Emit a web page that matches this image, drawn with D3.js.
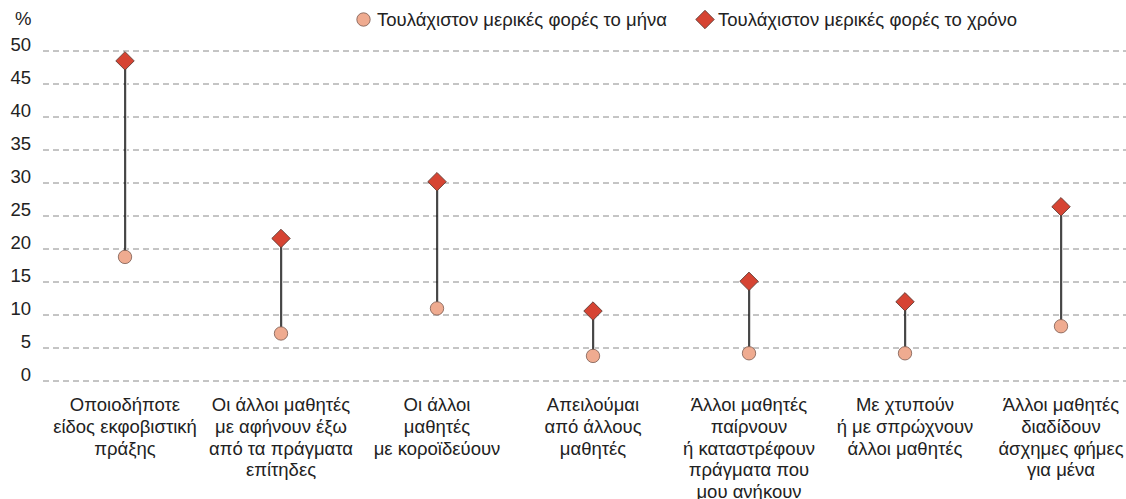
<!DOCTYPE html>
<html><head><meta charset="utf-8">
<script src="https://cdn.jsdelivr.net/npm/d3@7"></script>
<style>body{margin:0;background:#fff}svg{display:block;font-family:"Liberation Sans",Arial,sans-serif}</style>
</head><body><svg id="c" width="1126" height="499"></svg>
<script>
const categories = [
  ["Οποιοδήποτε","είδος εκφοβιστική","πράξης"],
  ["Οι άλλοι μαθητές","με αφήνουν έξω","από τα πράγματα","επίτηδες"],
  ["Οι άλλοι","μαθητές","με κοροϊδεύουν"],
  ["Απειλούμαι","από άλλους","μαθητές"],
  ["Άλλοι μαθητές","παίρνουν","ή καταστρέφουν","πράγματα που","μου ανήκουν"],
  ["Με χτυπούν","ή με σπρώχνουν","άλλοι μαθητές"],
  ["Άλλοι μαθητές","διαδίδουν","άσχημες φήμες","για μένα"]
];
const monthly = [18.8, 7.2, 11.0, 3.8, 4.2, 4.2, 8.3];
const yearly = [48.5, 21.6, 30.2, 10.6, 15.1, 12.0, 26.4];
const yTicks = [0,5,10,15,20,25,30,35,40,45,50];
const seriesNames = ["Τουλάχιστον μερικές φορές το μήνα","Τουλάχιστον μερικές φορές το χρόνο"];

const FS = 18.5;
const svg = d3.select("#c");
const idx = d3.range(categories.length);
const x = d3.scaleBand().domain(idx).range([47,1139]);
const y = d3.scaleLinear().domain([0,50]).range([381,51]);

// grid
svg.append("g").selectAll("line").data(yTicks).join("line")
  .attr("x1",43).attr("x2",1126).attr("y1",d=>y(d)).attr("y2",d=>y(d))
  .attr("stroke","#8a8a8a").attr("stroke-width",1).attr("stroke-dasharray","6,4");
svg.append("g").selectAll("text").data(yTicks).join("text")
  .attr("x",31).attr("y",d=>y(d)-0.5).attr("text-anchor","end")
  .attr("font-size",FS).attr("fill","#222").text(d=>d);
svg.append("text").attr("x",15).attr("y",25).attr("font-size",FS).attr("fill","#222").text("%");

// connectors
const cx = i => x(i) + x.bandwidth()/2;
svg.append("g").selectAll("line").data(idx).join("line")
  .attr("x1",i=>cx(i)+1.2).attr("x2",i=>cx(i)+1.2).attr("y1",i=>y(monthly[i])).attr("y2",i=>y(yearly[i]))
  .attr("stroke","#d4d4d4").attr("stroke-width",1.5);
svg.append("g").selectAll("line").data(idx).join("line")
  .attr("x1",cx).attr("x2",cx).attr("y1",i=>y(monthly[i])).attr("y2",i=>y(yearly[i]))
  .attr("stroke","#000").attr("stroke-width",1.4);

// markers
const circFill = "#efab90", circStroke = "#7a5a50";
const diaFill = "#d64433", diaStroke = "#5a3a33";
svg.append("g").selectAll("circle").data(idx).join("circle")
  .attr("cx",cx).attr("cy",i=>y(monthly[i])).attr("r",6.7)
  .attr("fill",circFill).attr("stroke",circStroke).attr("stroke-width",0.8);
const diamond = d3.symbol().type(d3.symbolSquare).size(170);
svg.append("g").selectAll("path").data(idx).join("path")
  .attr("d",diamond)
  .attr("transform",i=>`translate(${cx(i)},${y(yearly[i])}) rotate(45)`)
  .attr("fill",diaFill).attr("stroke",diaStroke).attr("stroke-width",0.8);

// x labels
const xl = svg.append("g").selectAll("text").data(idx).join("text")
  .attr("x",cx).attr("y",411).attr("text-anchor","middle").attr("font-size",FS).attr("fill","#222");
xl.selectAll("tspan").data(i=>categories[i]).join("tspan")
  .attr("x",function(){return this.parentNode.getAttribute("x");})
  .attr("dy",(d,j)=>j===0?0:21.8).text(d=>d);

// legend
const lg = svg.append("g");
lg.append("circle").attr("cx",363.5).attr("cy",19.5).attr("r",6.7).attr("fill",circFill).attr("stroke",circStroke).attr("stroke-width",0.8);
lg.append("text").attr("x",377).attr("y",25.5).attr("font-size",FS).attr("fill","#222").text(seriesNames[0]);
lg.append("path").attr("d",diamond).attr("transform","translate(705,19.5) rotate(45)")
  .attr("fill",diaFill).attr("stroke",diaStroke).attr("stroke-width",0.8);
lg.append("text").attr("x",718).attr("y",25.5).attr("font-size",FS).attr("fill","#222").text(seriesNames[1]);
</script></body></html>
